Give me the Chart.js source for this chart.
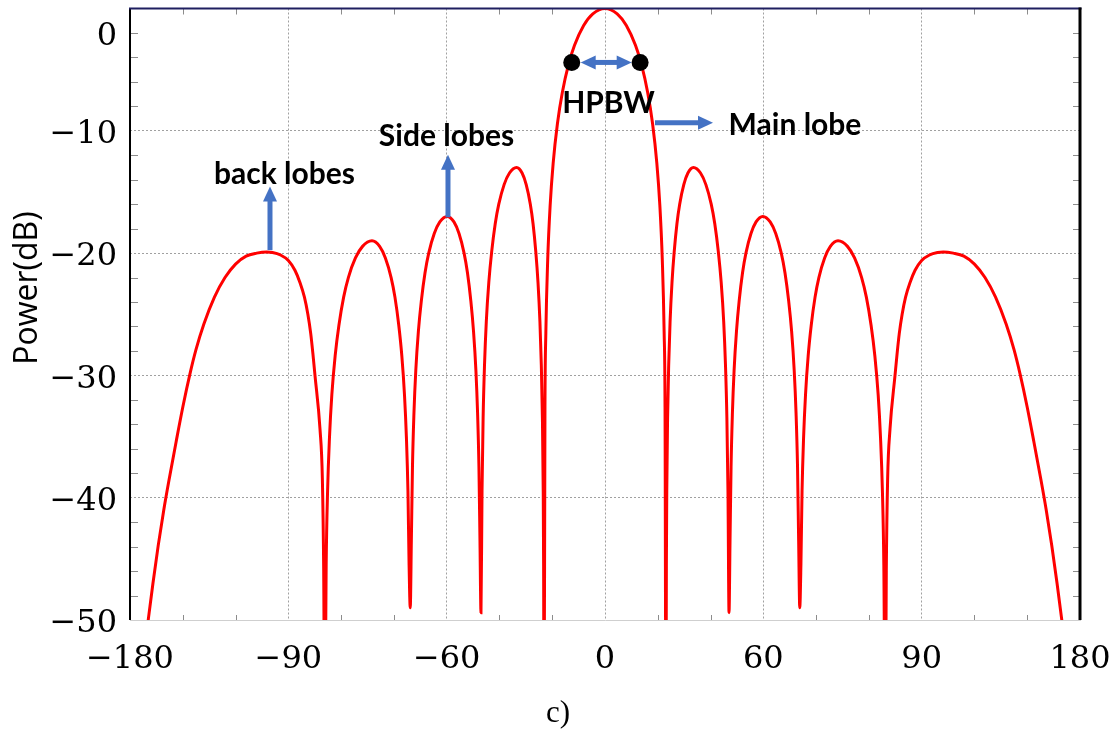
<!DOCTYPE html>
<html>
<head>
<meta charset="utf-8">
<script src="https://cdn.jsdelivr.net/npm/chart.js@4/dist/chart.umd.min.js"></script>
<style>
html,body{margin:0;padding:0;background:#fff;}
#wrap{width:1120px;height:729px;position:relative;}
</style>
</head>
<body>
<div id="wrap"><canvas id="c" width="1120" height="729"></canvas></div>
<script>
// ---- data (angle position on the axis, power in dB) ----
const angleDeg = [
  // left back lobe
  -180, -176, -173.1, -171.3, -169.3, -167.2, -165, -162.5, -160, -157.3,
  -155, -152, -148, -144, -140, -136, -132, -128.2, -126, -123,
  -120, -117.5, -115.6, -113.9, -112.6, -111.5, -110.7, -109.9, -108, -107.1,
  -106.6,
  // left third side lobe
  -106.2, -105.66, -105.13, -104.41, -103.52, -102.26, -100.83, -99.04, -97.25, -94.57,
  -91.88, -88.3, -85.4, -83.23, -81.05, -79.6, -78.15, -76.99, -75.98, -75.25,
  -74.67, -74.24,
  // left second side lobe
  -73.8, -73.38, -72.96, -72.4, -71.7, -70.72, -69.6, -68.2, -66.8, -64.7,
  -62.6, -59.8, -57.24, -55.32, -53.4, -52.12, -50.84, -49.82, -48.92, -48.28,
  -47.77, -47.38,
  // left first side lobe
  -47, -46.6, -46.19, -45.65, -44.98, -44.03, -42.95, -41.6, -40.25, -38.23,
  -36.2, -33.5, -31.42, -29.86, -28.3, -27.26, -26.22, -25.39, -24.66, -24.14,
  -23.72, -23.41, -23.26,
  // main lobe
  -23.1, -22.75, -22.41, -21.71, -20.79, -19.64, -18.02, -16.17, -13.86, -11.55, -8.09, -4.62,
  0,
  4.62, 8.09, 11.55, 13.86, 16.17, 18.02, 19.64, 20.79, 21.71, 22.41, 22.75, 23.1,
  // right first side lobe
  23.26, 23.41, 23.72, 24.14, 24.66, 25.39, 26.22, 27.26, 28.3, 29.86,
  31.42, 33.5, 36.2, 38.23, 40.25, 41.6, 42.95, 44.03, 44.98, 45.65,
  46.19, 46.6, 47,
  // right second side lobe
  47.38, 47.77, 48.28, 48.92, 49.82, 50.84, 52.12, 53.4, 55.32, 57.24,
  59.8, 62.6, 64.7, 66.8, 68.2, 69.6, 70.72, 71.7, 72.4, 72.96,
  73.38, 73.8,
  // right third side lobe
  74.24, 74.67, 75.25, 75.98, 76.99, 78.15, 79.6, 81.05, 83.23, 85.4,
  88.3, 91.88, 94.57, 97.25, 99.04, 100.83, 102.26, 103.52, 104.41, 105.13,
  105.66, 106.2,
  // right back lobe
  106.6, 107.1, 108, 109.9, 110.7, 111.5, 112.6, 113.9, 115.6, 117.5,
  120, 123, 126, 128.2, 132, 136, 140, 144, 148, 152,
  155, 157.3, 160, 162.5, 165, 167.2, 169.3, 171.3, 173.1, 176,
  180
];
const powerDb = [
  // left back lobe
  -62, -55, -50, -47, -43.9, -41, -38.3, -35.4, -32.6, -29.9,
  -27.9, -25.8, -23.6, -22.0, -20.9, -20.25, -20.0, -19.9, -19.95, -20.15,
  -20.6, -21.4, -22.4, -23.6, -25.0, -26.6, -28.2, -30, -34.4, -38.5,
  -46,
  // left third side lobe
  -60, -45.5, -39.5, -35.1, -31.6, -28.4, -25.9, -23.6, -22.0, -20.4,
  -19.45, -19, -19.45, -20.4, -22.0, -23.6, -25.9, -28.4, -31.6, -35.1,
  -39.5, -45.5,
  // left second side lobe
  -49, -43.5, -37.5, -33.1, -29.6, -26.4, -23.9, -21.6, -20.0, -18.4,
  -17.45, -17, -17.45, -18.4, -20.0, -21.6, -23.9, -26.4, -29.6, -33.1,
  -37.5, -43.5,
  // left first side lobe
  -49.4, -39.5, -33.5, -29.1, -25.6, -22.4, -19.9, -17.6, -16.0, -14.4,
  -13.45, -13, -13.45, -14.4, -16.0, -17.6, -19.9, -22.4, -25.6, -29.1,
  -33.5, -39.5, -45.6,
  // main lobe
  -60, -32.6, -26.5, -20.53, -16.12, -12.64, -9.4, -6.86, -4.61, -3.01, -1.39, -0.44,
  0,
  -0.44, -1.39, -3.01, -4.61, -6.86, -9.4, -12.64, -16.12, -20.53, -26.5, -32.6, -60,
  // right first side lobe
  -45.6, -39.5, -33.5, -29.1, -25.6, -22.4, -19.9, -17.6, -16.0, -14.4,
  -13.45, -13, -13.45, -14.4, -16.0, -17.6, -19.9, -22.4, -25.6, -29.1,
  -33.5, -39.5, -49.4,
  // right second side lobe
  -43.5, -37.5, -33.1, -29.6, -26.4, -23.9, -21.6, -20.0, -18.4, -17.45,
  -17, -17.45, -18.4, -20.0, -21.6, -23.9, -26.4, -29.6, -33.1, -37.5,
  -43.5, -49,
  // right third side lobe
  -45.5, -39.5, -35.1, -31.6, -28.4, -25.9, -23.6, -22.0, -20.4, -19.45,
  -19, -19.45, -20.4, -22.0, -23.6, -25.9, -28.4, -31.6, -35.1, -39.5,
  -45.5, -60,
  // right back lobe
  -46, -38.5, -34.4, -30, -28.2, -26.6, -25.0, -23.6, -22.4, -21.4,
  -20.6, -20.15, -19.95, -19.9, -20.0, -20.25, -20.9, -22.0, -23.6, -25.8,
  -27.9, -29.9, -32.6, -35.4, -38.3, -41, -43.9, -47, -50, -55,
  -62
];
const hpbwAngles = [-12.6, 13.3];
const hpbwPower = [-4.41, -4.41];

const xTickValues = [-180, -120, -60, 0, 60, 120, 180];
const xTickLabels = ['\u2212180', '\u221290', '\u221260', '0', '60', '90', '180'];
const yTickValues = [-50, -40, -30, -20, -10, -2];
const yTickLabels = ['\u221250', '\u221240', '\u221230', '\u221220', '\u221210', '0'];
const xMinorTicks = [-160, -140, -100, -80, -40, -20, 20, 40, 80, 100, 140, 160];
const yMinorTicks = [-48, -46, -44, -42, -38, -36, -34, -32, -28, -26, -24, -22, -18, -16, -14, -12, -8, -6, -4, -2];

const labelTexts = ['back lobes', 'Side lobes', 'HPBW', 'Main lobe'];
const labelAngles = [-121.45, -60.06, 1.33, 72.0];
const labelPowers = [-14.39, -11.22, -8.54, -10.33];

// arrows: [x1, y1, x2, y2, doubleHeaded]
const arrowsDef = [
  [-126.95, -19.76, -126.95, -14.55, false],
  [-59.5, -17.07, -59.5, -11.95, false],
  [-9.21, -4.41, 10.12, -4.41, true],
  [18.95, -9.35, 40.93, -9.35, false]
];

// ---- drawing helpers ----
function drawArrowHead(ctx, x, y, ang, len, wid) {
  ctx.beginPath();
  ctx.moveTo(x, y);
  ctx.lineTo(x - len * Math.cos(ang) + (wid / 2) * Math.sin(ang), y - len * Math.sin(ang) - (wid / 2) * Math.cos(ang));
  ctx.lineTo(x - len * Math.cos(ang) - (wid / 2) * Math.sin(ang), y - len * Math.sin(ang) + (wid / 2) * Math.cos(ang));
  ctx.closePath();
  ctx.fill();
}
function drawArrow(ctx, x1, y1, x2, y2, dbl, color) {
  const ang = Math.atan2(y2 - y1, x2 - x1);
  const headLen = 15, headW = 14, shaft = 5;
  ctx.strokeStyle = color; ctx.fillStyle = color; ctx.lineWidth = shaft; ctx.lineCap = 'butt';
  const sx = dbl ? x1 + (headLen - 2) * Math.cos(ang) : x1;
  const sy = dbl ? y1 + (headLen - 2) * Math.sin(ang) : y1;
  const ex = x2 - (headLen - 2) * Math.cos(ang);
  const ey = y2 - (headLen - 2) * Math.sin(ang);
  ctx.beginPath(); ctx.moveTo(sx, sy); ctx.lineTo(ex, ey); ctx.stroke();
  drawArrowHead(ctx, x2, y2, ang, headLen, headW);
  if (dbl) drawArrowHead(ctx, x1, y1, ang + Math.PI, headLen, headW);
}

const decorPlugin = {
  id: 'decor',
  afterDraw(chart) {
    const { ctx, chartArea: a, scales: { x, y } } = chart;
    ctx.save();
    // minor ticks
    ctx.strokeStyle = '#8c8c8c'; ctx.lineWidth = 1;
    ctx.beginPath();
    yMinorTicks.forEach(v => {
      const py = Math.round(y.getPixelForValue(v)) + 0.5;
      ctx.moveTo(a.left, py); ctx.lineTo(a.left + 8, py);
      ctx.moveTo(a.right - 7, py); ctx.lineTo(a.right, py);
    });
    xMinorTicks.forEach(v => {
      const px = Math.round(x.getPixelForValue(v)) + 0.5;
      ctx.moveTo(px, a.top); ctx.lineTo(px, a.top + 6);
      ctx.moveTo(px, a.bottom); ctx.lineTo(px, a.bottom - 5);
    });
    ctx.stroke();
    // frame: left, top, right
    ctx.setLineDash([]);
    ctx.strokeStyle = '#000'; ctx.lineWidth = 2;
    ctx.beginPath(); ctx.moveTo(a.left, a.top); ctx.lineTo(a.left, a.bottom); ctx.stroke();
    ctx.strokeStyle = '#1f1f60'; ctx.lineWidth = 2;
    ctx.beginPath(); ctx.moveTo(a.left - 1, a.top); ctx.lineTo(a.right + 1.5, a.top); ctx.stroke();
    ctx.strokeStyle = '#000'; ctx.lineWidth = 3;
    ctx.beginPath(); ctx.moveTo(a.right, a.top - 1); ctx.lineTo(a.right, a.bottom); ctx.stroke();
    // arrows
    arrowsDef.forEach(d => {
      drawArrow(ctx, x.getPixelForValue(d[0]), y.getPixelForValue(d[1]),
        x.getPixelForValue(d[2]), y.getPixelForValue(d[3]), d[4], '#4472c4');
    });
    // annotation texts
    ctx.fillStyle = '#000';
    ctx.font = 'bold 30px Lato';
    ctx.textAlign = 'center'; ctx.textBaseline = 'alphabetic';
    labelTexts.forEach((t, i) => {
      ctx.fillText(t, x.getPixelForValue(labelAngles[i]), y.getPixelForValue(labelPowers[i]));
    });
    // y-axis title
    ctx.save();
    ctx.translate(37, 288);
    ctx.rotate(-Math.PI / 2);
    ctx.font = '32px "Open Sans"';
    ctx.textAlign = 'center'; ctx.textBaseline = 'alphabetic';
    ctx.fillText('Power(dB)', 0, 0);
    ctx.restore();
    // caption
    ctx.font = '31px "Liberation Serif"';
    ctx.textAlign = 'center'; ctx.textBaseline = 'alphabetic';
    ctx.fillText('c)', 558, 722);
    ctx.restore();
  }
};

const gridCol = '#a0a0a0';
new Chart(document.getElementById('c'), {
  type: 'line',
  data: {
    datasets: [
      {
        data: hpbwAngles.map((a, i) => ({ x: a, y: hpbwPower[i] })),
        showLine: false, pointRadius: 8.5, pointBackgroundColor: '#000', pointBorderWidth: 0,
        pointHoverRadius: 8.5, order: 0
      },
      {
        data: angleDeg.map((a, i) => ({ x: a, y: powerDb[i] })),
        borderColor: '#ff0000', borderWidth: 3, pointRadius: 0, fill: false,
        cubicInterpolationMode: 'monotone', order: 1
      }
    ]
  },
  options: {
    responsive: false, animation: false, devicePixelRatio: 1,
    layout: { padding: { top: 5, right: 40, left: 0, bottom: 0 } },
    plugins: { legend: { display: false }, tooltip: { enabled: false }, title: { display: false } },
    scales: {
      x: {
        type: 'linear', min: -180, max: 180,
        afterBuildTicks: s => { s.ticks = xTickValues.map(v => ({ value: v })); },
        afterFit: s => { s.height = 109; s.paddingLeft = 0; s.paddingRight = 0; },
        ticks: {
          autoSkip: false, maxRotation: 0, minRotation: 0, padding: 20, color: '#000',
          font: { family: '"DejaVu Serif"', size: 32 },
          callback: v => xTickLabels[xTickValues.indexOf(v)]
        },
        grid: {
          drawTicks: false, lineWidth: 1,
          color: c => (c.tick && (c.tick.value === -180 || c.tick.value === 180)) ? 'rgba(0,0,0,0)' : gridCol
        },
        border: { display: true, color: '#cfcfcf', width: 1, dash: [2, 2] }
      },
      y: {
        type: 'linear', min: -50, max: 0,
        afterBuildTicks: s => { s.ticks = yTickValues.map(v => ({ value: v })); },
        afterFit: s => { s.width = 130; s.paddingTop = 0; s.paddingBottom = 0; },
        ticks: {
          padding: 13, labelOffset: 4, color: '#000',
          font: { family: '"DejaVu Serif"', size: 32 },
          callback: v => yTickLabels[yTickValues.indexOf(v)]
        },
        grid: {
          drawTicks: false, lineWidth: 1,
          color: c => (c.tick && (c.tick.value === -2 || c.tick.value === -50)) ? 'rgba(0,0,0,0)' : gridCol
        },
        border: { display: false, dash: [2, 2] }
      }
    }
  },
  plugins: [decorPlugin]
});
</script>
</body>
</html>
